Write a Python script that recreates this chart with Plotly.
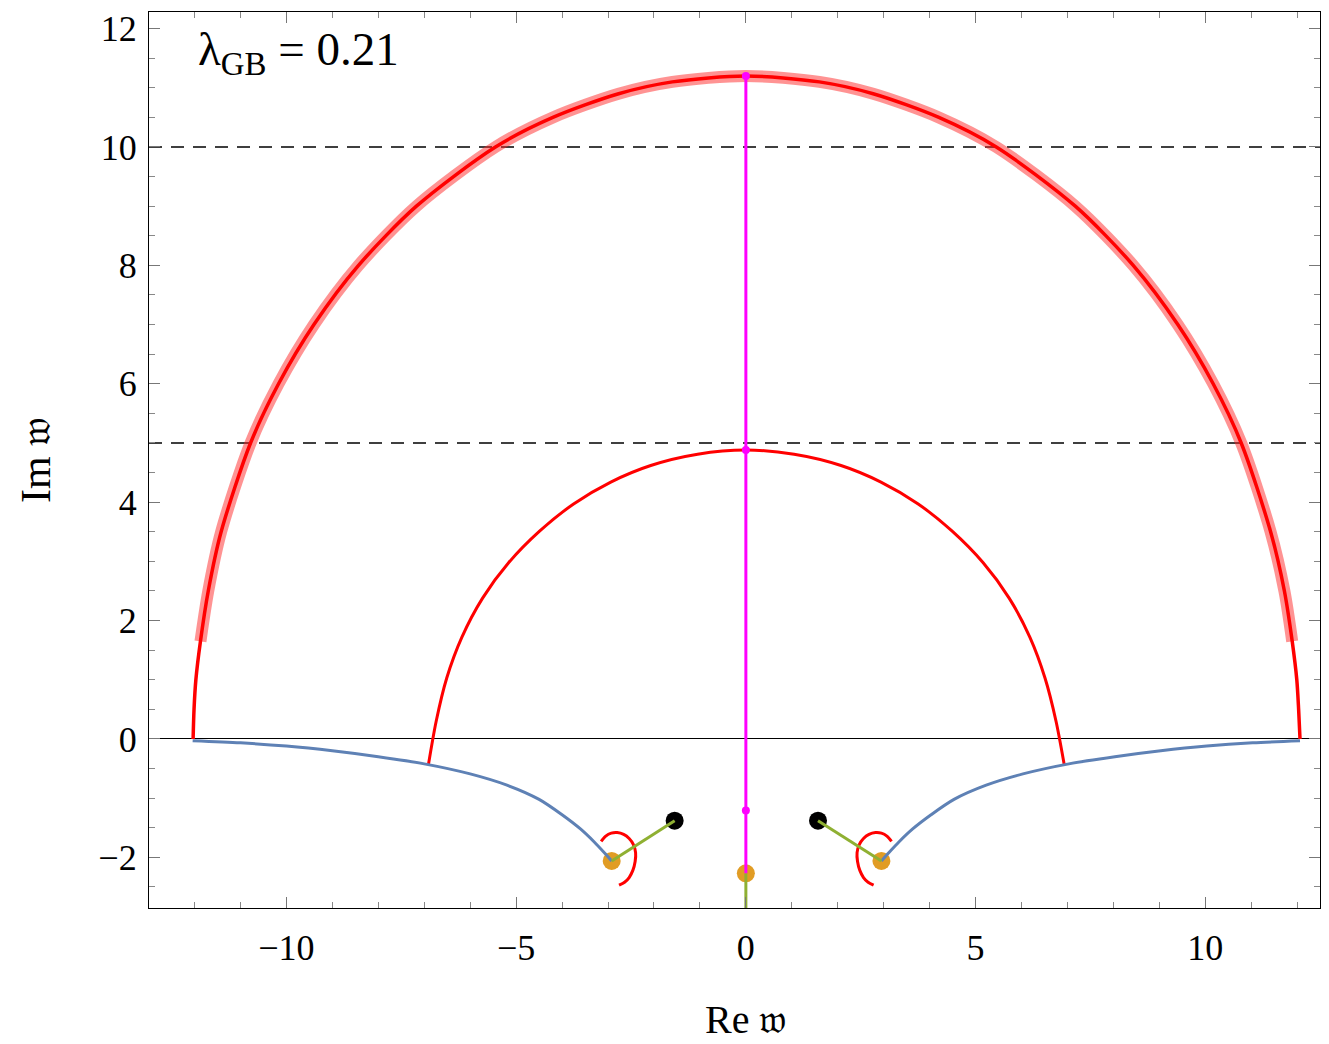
import plotly.graph_objects as go

# ---------------- data ----------------
# outer (large) red arc
outer_x = [-12.03, -12.01, -11.97, -11.87, -11.70, -11.42, -10.78, -10.17, -9.40,
           -8.43, -7.17, -5.45, -4.20, -2.77, -1.60, 0.0,
           1.60, 2.77, 4.20, 5.45, 7.17, 8.43, 9.40, 10.17, 10.78, 11.42, 11.72,
           11.89, 11.99, 12.03, 12.06]
outer_y = [0.0, 0.5, 1.0, 1.65, 2.5, 3.5, 5.0, 6.0, 7.0,
           8.0, 9.0, 10.0, 10.5, 10.9, 11.1, 11.2,
           11.1, 10.9, 10.5, 10.0, 9.0, 8.0, 7.0, 6.0, 5.0, 3.5, 2.5,
           1.65, 1.0, 0.5, 0.0]
# portion of the outer arc that is highlighted (thick translucent band)
band_x = [-11.87, -11.70, -11.42, -10.78, -10.17, -9.40, -8.43, -7.17, -5.45, -4.20,
          -2.77, -1.60, 0.0, 1.60, 2.77, 4.20, 5.45, 7.17, 8.43, 9.40, 10.17, 10.78,
          11.42, 11.72, 11.89]
band_y = [1.65, 2.5, 3.5, 5.0, 6.0, 7.0, 8.0, 9.0, 10.0, 10.5,
          10.9, 11.1, 11.2, 11.1, 10.9, 10.5, 10.0, 9.0, 8.0, 7.0, 6.0, 5.0,
          3.5, 2.5, 1.65]

# inner red arc
inner_x = [-6.91, -6.74, -6.51, -6.18, -5.73, -5.16, -4.49, -3.75, -2.94, -2.07, -1.05, 0.0,
           1.05, 2.07, 2.94, 3.75, 4.49, 5.16, 5.73, 6.18, 6.51, 6.75, 6.93]
inner_y = [-0.44, 0.30, 1.03, 1.72, 2.38, 2.98, 3.51, 3.97, 4.34, 4.62, 4.81, 4.88,
           4.81, 4.62, 4.34, 3.97, 3.51, 2.98, 2.38, 1.72, 1.03, 0.30, -0.44]

# blue branches (left and right)
blue_left_x = [-12.04, -11.0, -10.0, -9.0, -8.0, -7.0, -6.0, -5.2, -4.5, -4.0,
               -3.6, -3.3, -3.07, -2.92]
blue_left_y = [-0.03, -0.065, -0.12, -0.20, -0.30, -0.42, -0.59, -0.78, -1.02, -1.28,
               -1.52, -1.74, -1.93, -2.06]
blue_right_x = [2.95, 3.10, 3.33, 3.63, 4.03, 4.53, 5.23, 6.03, 7.03, 8.03, 9.03,
                10.03, 11.03, 12.06]
blue_right_y = [-2.06, -1.93, -1.74, -1.52, -1.28, -1.02, -0.78, -0.59, -0.42, -0.30,
                -0.20, -0.12, -0.065, -0.03]

# small red loops near the lower branch points
loop_left_x = [-3.15, -3.05, -2.93, -2.80, -2.66, -2.54, -2.45, -2.40, -2.41, -2.46,
               -2.54, -2.64, -2.76]
loop_left_y = [-1.73, -1.64, -1.59, -1.58, -1.61, -1.68, -1.78, -1.92, -2.07, -2.22,
               -2.34, -2.42, -2.47]
loop_right_x = [3.17, 3.07, 2.95, 2.82, 2.68, 2.56, 2.47, 2.42, 2.43, 2.48,
                2.56, 2.66, 2.78]
loop_right_y = [-1.73, -1.64, -1.59, -1.58, -1.61, -1.68, -1.78, -1.92, -2.07, -2.22,
                -2.34, -2.42, -2.47]

# green segments
green_left_x = [-2.92, -1.55]
green_left_y = [-2.06, -1.38]
green_right_x = [1.57, 2.95]
green_right_y = [-1.38, -2.06]
green_mid_x = [0.0, 0.0]
green_mid_y = [-2.27, -3.2]

# magenta imaginary-axis line and its points
magenta_line_x = [0.0, 0.0]
magenta_line_y = [11.2, -2.27]
magenta_pts_x = [0.0, 0.0, 0.0]
magenta_pts_y = [11.2, 4.88, -1.21]

# point markers
orange_x = [-2.92, 0.0, 2.95]
orange_y = [-2.06, -2.27, -2.06]
black_x = [-1.55, 1.57]
black_y = [-1.38, -1.38]

dashed_levels = [5, 10]

# ---------------- figure ----------------
RED = "#FF0000"
BLUE = "#5E81B5"
ORANGE = "#E19C24"
GREEN = "#8FB032"
MAGENTA = "#FF00FF"

fig = go.Figure()

def line(x, y, color, width, shape="spline"):
    fig.add_trace(go.Scatter(x=x, y=y, mode="lines",
                             line=dict(color=color, width=width, shape=shape, smoothing=0.8),
                             hoverinfo="skip", showlegend=False))

line(band_x, band_y, "rgba(255,40,40,0.5)", 12)
line(outer_x, outer_y, RED, 3.5)
line(inner_x, inner_y, RED, 3)

# markers below the connecting lines
fig.add_trace(go.Scatter(x=orange_x, y=orange_y, mode="markers",
                         marker=dict(color=ORANGE, size=18, line=dict(width=0)),
                         showlegend=False, hoverinfo="skip"))
fig.add_trace(go.Scatter(x=black_x, y=black_y, mode="markers",
                         marker=dict(color="black", size=18, line=dict(width=0)),
                         showlegend=False, hoverinfo="skip"))

line(blue_left_x, blue_left_y, BLUE, 3)
line(blue_right_x, blue_right_y, BLUE, 3)
line(loop_left_x, loop_left_y, RED, 3)
line(loop_right_x, loop_right_y, RED, 3)
line(green_left_x, green_left_y, GREEN, 3, "linear")
line(green_right_x, green_right_y, GREEN, 3, "linear")
line(green_mid_x, green_mid_y, GREEN, 3, "linear")
line(magenta_line_x, magenta_line_y, MAGENTA, 3, "linear")
fig.add_trace(go.Scatter(x=magenta_pts_x, y=magenta_pts_y, mode="markers",
                         marker=dict(color=MAGENTA, size=8), showlegend=False, hoverinfo="skip"))

for lv in dashed_levels:
    fig.add_shape(type="line", xref="paper", x0=0, x1=1, yref="y", y0=lv, y1=lv,
                  line=dict(color="black", width=1.4, dash="13px,9px"), layer="below")

FONT = "Liberation Serif"
axis_common = dict(
    showgrid=False, showline=True, linecolor="black", linewidth=1.3, mirror="allticks",
    ticks="inside", ticklen=11, tickwidth=1.2, tickcolor="#777777",
    tickfont=dict(family=FONT, size=36, color="black"),
    minor=dict(ticks="inside", ticklen=6, tickwidth=1, tickcolor="#888888", showgrid=False),
)

fig.update_xaxes(range=[-12.99, 12.495], dtick=5, tick0=0, zeroline=False,
                 minor_dtick=1, ticklabelstandoff=8, **axis_common)
fig.update_yaxes(range=[-2.855, 12.28], dtick=2, tick0=0, zeroline=True,
                 zerolinecolor="black", zerolinewidth=1.2,
                 minor_dtick=0.5, ticklabelstandoff=4, **axis_common,
                 title=dict(text="Im 𝔴", font=dict(family=FONT, size=42, color="black"),
                            standoff=34))

# x-axis title, centred under Re = 0 as in the reference
fig.add_annotation(text="Re 𝔴", xref="x", yref="paper", x=0, y=-0.124,
                   xanchor="center", yanchor="middle", showarrow=False, borderpad=0,
                   font=dict(family=FONT, size=40, color="black"))

fig.add_annotation(text="λ<sub>GB</sub> = 0.21", xref="paper", yref="paper",
                   x=0.04, y=0.955, xanchor="left", yanchor="middle", showarrow=False,
                   font=dict(family=FONT, size=47, color="black"))

# the page body adds an 8 px offset; plot frame sits at x 149..1320, y 12..908
fig.update_layout(width=1313, height=1036, margin=dict(l=141, r=1, t=4, b=136),
                  plot_bgcolor="white", paper_bgcolor="white")

fig.write_html("out.html")
